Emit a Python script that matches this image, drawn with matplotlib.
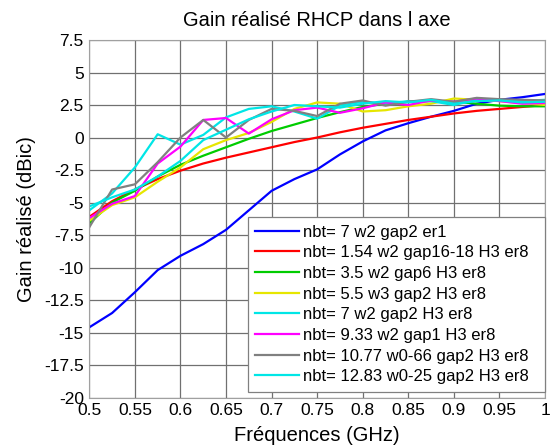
import matplotlib
matplotlib.use("Agg")
from matplotlib import pyplot as plt

plt.rcParams["font.family"] = ["Liberation Sans", "DejaVu Sans"]
plt.rcParams["axes.unicode_minus"] = False

freq = [0.5, 0.525, 0.55, 0.575, 0.6, 0.625, 0.65, 0.675, 0.7, 0.725, 0.75,
        0.775, 0.8, 0.825, 0.85, 0.875, 0.9, 0.925, 0.95, 0.975, 1.0]

gain_blue = [-14.6, -13.5, -11.9, -10.2, -9.1, -8.2, -7.1, -5.6, -4.1, -3.2, -2.45,
             -1.3, -0.3, 0.55, 1.1, 1.6, 2.05, 2.6, 2.9, 3.1, 3.35]
gain_red = [-6.1, -4.9, -4.0, -3.2, -2.55, -2.0, -1.55, -1.15, -0.75, -0.35, 0.0,
            0.4, 0.75, 1.05, 1.35, 1.6, 1.85, 2.05, 2.2, 2.35, 2.5]
gain_green = [-6.6, -5.0, -4.1, -3.0, -2.1, -1.4, -0.75, -0.1, 0.5, 1.0, 1.5,
              1.95, 2.35, 2.6, 2.75, 2.8, 2.75, 2.6, 2.45, 2.4, 2.4]
gain_yellow = [-6.4, -5.2, -4.6, -3.4, -2.3, -0.9, -0.2, 0.35, 1.2, 2.2, 2.7,
               2.6, 2.0, 2.1, 2.4, 2.6, 3.0, 2.9, 2.8, 2.65, 2.5]
gain_cyan1 = [-5.6, -4.3, -2.3, 0.25, -0.55, 0.2, 1.55, 2.2, 2.4, 2.0, 1.45,
              2.45, 2.75, 2.6, 2.8, 2.8, 2.5, 2.9, 2.9, 2.8, 2.9]
gain_magenta = [-6.2, -5.1, -4.5, -2.0, -0.7, 1.35, 1.5, 0.3, 1.4, 2.1, 2.3,
                1.9, 2.25, 2.7, 2.5, 2.85, 2.75, 3.0, 2.8, 2.6, 2.65]
gain_gray = [-6.9, -4.0, -3.6, -1.9, 0.0, 1.35, 0.0, 1.35, 2.2, 2.05, 1.65,
             2.6, 2.85, 2.45, 2.75, 2.95, 2.75, 3.05, 2.95, 2.9, 2.85]
gain_cyan2 = [-5.3, -4.6, -4.0, -3.0, -1.8, -0.2, 0.6, 1.4, 2.0, 2.5, 2.4,
              2.3, 2.6, 2.8, 2.7, 2.9, 2.6, 2.8, 2.85, 2.7, 2.75]

labels = ["nbt= 7 w2 gap2 er1",
          "nbt= 1.54 w2 gap16-18 H3 er8",
          "nbt= 3.5 w2 gap6 H3 er8",
          "nbt= 5.5 w3 gap2 H3 er8",
          "nbt= 7 w2 gap2 H3 er8",
          "nbt= 9.33 w2 gap1 H3 er8",
          "nbt= 10.77 w0-66 gap2 H3 er8",
          "nbt= 12.83 w0-25 gap2 H3 er8"]
series = [gain_blue, gain_red, gain_green, gain_yellow,
          gain_cyan1, gain_magenta, gain_gray, gain_cyan2]
colors = ["#0000ff", "#ff0000", "#00cc00", "#e6e600",
          "#00e6e6", "#ff00ff", "#808080", "#00e6e6"]

xticks = [0.5, 0.55, 0.6, 0.65, 0.7, 0.75, 0.8, 0.85, 0.9, 0.95, 1.0]
yticks = [7.5, 5, 2.5, 0, -2.5, -5, -7.5, -10, -12.5, -15, -17.5, -20]

fig = plt.figure(figsize=(5.5, 4.48), dpi=100)
ax = fig.add_axes([0.1624, 0.1127, 0.8286, 0.798])

for y, c, lab in zip(series, colors, labels):
    ax.plot(freq, y, color=c, linewidth=1.6, label=lab)

ax.set_xlim(0.5, 1.0)
ax.set_ylim(-20, 7.5)
ax.set_xticks(xticks)
ax.set_xticklabels([f"{v:g}" for v in xticks])
ax.set_yticks(yticks)
ax.set_yticklabels([f"{v:g}" for v in yticks])
ax.tick_params(length=0, labelsize=12.5, pad=4)
ax.grid(True, color="#707070", linewidth=0.9)
for s in ax.spines.values():
    s.set_color("#a0a0a0")

ax.set_title("Gain réalisé RHCP dans l axe", fontsize=14.5, pad=10)
ax.set_xlabel("Fréquences (GHz)", fontsize=14.5, labelpad=6)
ax.set_ylabel("Gain réalisé (dBic)", fontsize=14.5, labelpad=6)

# legend box spans from x~248 px to the right spine, text left aligned
leg = ax.legend(loc="lower left", bbox_to_anchor=(0.348, 0.016, 0.652, 0.5),
                mode="expand", borderaxespad=0,
                fancybox=False, edgecolor="#808080", framealpha=1,
                fontsize=12, handlelength=2.6, labelspacing=0.34,
                borderpad=0.45, handletextpad=0.25)
leg.get_frame().set_linewidth(0.9)

fig.savefig("out.png", dpi=100)
